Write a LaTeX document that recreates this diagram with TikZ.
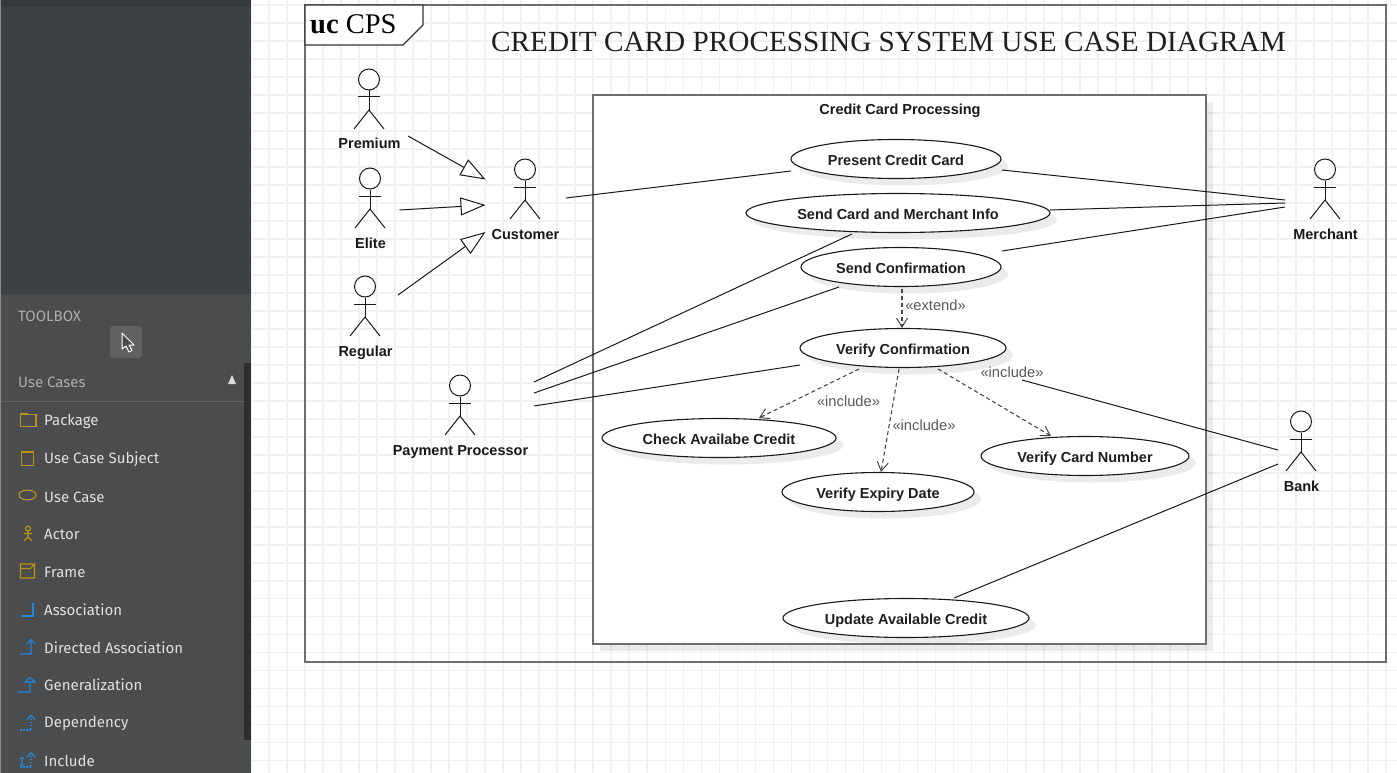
\documentclass[tikz,border=0pt]{standalone}
\usepackage{fontspec}
\setmainfont{Liberation Sans}
\newfontfamily\uifont{Fira Sans}
\newfontfamily\serifont{Liberation Serif}
\usetikzlibrary{arrows.meta,shapes.geometric,shadows}
\definecolor{panel}{HTML}{4B4C4E}
\definecolor{paneltop}{HTML}{3C4143}
\definecolor{band}{HTML}{353A3C}
\definecolor{gridc}{HTML}{F1F1F1}
\definecolor{frameg}{HTML}{6E6E6E}
\definecolor{gold}{HTML}{B8960C}
\definecolor{azure}{HTML}{2288DD}
\tikzset{
  usecase/.style={ellipse,draw=black!90,fill=white,line width=1.1pt,inner sep=0pt,
    font=\fontsize{14.5}{16}\selectfont\bfseries,text=black!88,text height=12pt,text depth=0pt,
    drop shadow={shadow xshift=7pt,shadow yshift=-7pt,fill=black,opacity=.08}},
  actorlabel/.style={font=\fontsize{14.5}{16}\selectfont\bfseries,text=black!90,inner sep=0pt,text height=12pt,text depth=0pt},
  assoc/.style={line width=1pt,black!90},
  gen/.style={line width=1pt,black!90,-{Triangle[open,length=25pt,width=18pt,fill=white]}},
  dep/.style={line width=1.1pt,black!72,dashed,dash pattern=on 4pt off 3pt,-{Straight Barb[length=9pt,width=11pt,line width=1pt]}},
  stereo/.style={font=\fontsize{14.7}{16}\selectfont,text=black!65,inner sep=0pt},
  toolitem/.style={font=\uifont\fontsize{15}{18}\selectfont,text=white!88!black,anchor=west,inner sep=0pt},
  toolhead/.style={font=\uifont\fontsize{15}{18}\selectfont,text=white!68!black,anchor=west,inner sep=0pt},
  goldicon/.style={draw=gold,line width=1.1pt},
  blueicon/.style={draw=azure,line width=1.1pt},
}
\newcommand{\actorfig}[5]{% name, x, y of head centre, label, label y
  \node[circle,draw=black!90,fill=white,line width=1pt,minimum size=21pt,inner sep=0pt] (#1) at (#2,#3.5) {};
  \draw[line width=1pt,black!90] (#1.south) -- ++(0,19.5) coordinate (#1hip);
  \draw[line width=1pt,black!90] ([shift={(-11,6.5)}]#1.south) -- ++(22,0);
  \draw[line width=1pt,black!90] ([shift={(-15,38.5)}]#1.south) -- (#1hip) -- ([shift={(15,38.5)}]#1.south);
  \node[actorlabel] (#1label) at (#2.5,#5) {#4};
}
\begin{document}
\begin{tikzpicture}[x=1pt,y=-1pt]
\useasboundingbox (0,0) rectangle (1397,773);
\clip (0,0) rectangle (1397,773);
\fill[white] (0,0) rectangle (1397,773);
% canvas grid
\foreach \gx in {0,...,63}{\draw[gridc,line width=1.7pt] ({251+18.015*\gx},0) -- ({251+18.015*\gx},773);}
\foreach \gy in {0,...,42}{\draw[gridc,line width=1.7pt] (250,{5.3+17.98*\gy}) -- (1397,{5.3+17.98*\gy});}
% side panel
\fill[paneltop] (0,0) rectangle (251,294);
\fill[band] (0,0) rectangle (251,7);
\fill[panel] (0,294) rectangle (251,773);
\fill[black!45] (0,0) rectangle (1,773);
\fill[black!82] (244,363) rectangle (251,740);
\draw[white!12!panel,line width=.8pt] (1,401.5) -- (244,401.5);
\node[toolhead] (tbox) at (18,316.5) {TOOLBOX};
\node[fill=white!12!panel,rounded corners=3pt,minimum size=32pt,inner sep=0pt] (cursorbtn) at (126,342) {};
\draw[white,fill=panel,line width=1pt,line join=round] (122,333) -- (122,349) -- (126,346) -- (129,352) -- (132,350.5) -- (129,345) -- (134,345) -- cycle;
\node[toolhead] (ucases) at (18,382.5) {Use Cases};
\fill[white!85!black] (228,384) -- (232,375) -- (236,384) -- cycle;
\node[toolitem] (i1) at (44,421) {Package};
\node[toolitem] (i2) at (44,459) {Use Case Subject};
\node[toolitem] (i3) at (44,497) {Use Case};
\node[toolitem] (i4) at (44,534) {Actor};
\node[toolitem] (i5) at (44,572) {Frame};
\node[toolitem] (i6) at (44,610) {Association};
\node[toolitem] (i7) at (44,648) {Directed Association};
\node[toolitem] (i8) at (44,685) {Generalization};
\node[toolitem] (i9) at (44,723) {Dependency};
\node[toolitem] (i10) at (44,761) {Include};
\draw[goldicon] (20.5,426.5) rectangle (36,414.5) (20.5,414.5) -- (20.5,413.5) -- (27,413.5) -- (27,414.5);
\draw[goldicon] (21.5,452) -- (33.5,452) -- (33.5,465.5) -- (21.5,465.5) -- cycle;
\draw[goldicon] (27.5,495) ellipse [x radius=8.5,y radius=5];
\draw[goldicon] (28,528.5) circle (2.5) (28,531) -- (28,537) (24,533.5) -- (32,533.5) (24,541) -- (28,537) -- (32,541);
\draw[goldicon] (20.5,564) rectangle (34.5,578) (20.5,568.5) -- (30.5,568.5) -- (34.5,564);
\draw[blueicon] (21,616) -- (33,616) -- (33,603);
\draw[blueicon] (20,654) -- (31,654) -- (31,640) (27,644) -- (31,639.5) -- (35,644);
\draw[blueicon] (18,692) -- (30,692) -- (30,682) (25,682) -- (30,677.5) -- (35,682) -- cycle;
\draw[blueicon,dash pattern=on 1.5pt off 1.5pt] (20,730) -- (31,730) -- (31,716);
\draw[blueicon] (27,719.5) -- (31,715.5) -- (35,719.5);
\draw[blueicon,dash pattern=on 1.5pt off 1.5pt] (20,767) -- (31,767) -- (31,754);
\draw[blueicon] (27,757) -- (31,753) -- (35,757) (20,758) -- (24,758) (22,758) -- (22,765) (20,765) -- (24,765);
% frame
\draw[frameg,line width=1.6pt] (305,5) rectangle (1386,662);
\draw[black!80,fill=white,line width=1.1pt] (305,5) -- (423,5) -- (423,25) -- (403,45) -- (305,45) -- cycle;
\node[font=\serifont\fontsize{28.5}{30}\selectfont,anchor=west,inner sep=0pt] (ttl) at (310,24) {\textbf{uc} CPS};
\node[font=\serifont\fontsize{29.25}{32}\selectfont,text=black!88,inner sep=0pt] (title) at (888.5,42) {CREDIT CARD PROCESSING SYSTEM USE CASE DIAGRAM};
% subject
\node[draw=frameg,fill=white,line width=1.6pt,minimum width=613pt,minimum height=549pt,inner sep=0pt,
  drop shadow={shadow xshift=7pt,shadow yshift=-7pt,fill=black,opacity=.08}] (subject) at (899.5,369.5) {};
\node[actorlabel] (subjlabel) at (900,108.5) {Credit Card Processing};
% use cases
\node[usecase,minimum width=210pt,minimum height=39pt] (present) at (896,159) {Present Credit Card};
\node[usecase,minimum width=304pt,minimum height=39pt] (sendcard) at (898,213) {Send Card and Merchant Info};
\node[usecase,minimum width=200pt,minimum height=39pt] (sendconf) at (901,267) {Send Confirmation};
\node[usecase,minimum width=206pt,minimum height=39pt] (verify) at (903,348) {Verify Confirmation};
\node[usecase,minimum width=234pt,minimum height=39pt] (check) at (719,438) {Check Availabe Credit};
\node[usecase,minimum width=192pt,minimum height=39pt] (expiry) at (878,492) {Verify Expiry Date};
\node[usecase,minimum width=208pt,minimum height=39pt] (cardno) at (1085,456) {Verify Card Number};
\node[usecase,minimum width=246pt,minimum height=39pt] (update) at (906,618) {Update Available Credit};
% actors
\actorfig{premium}{369}{79}{Premium}{143}
\actorfig{elite}{370}{178}{Elite}{242}
\actorfig{regular}{365}{286}{Regular}{350}
\actorfig{customer}{525}{169}{Customer}{233}
\actorfig{merchant}{1325}{169}{Merchant}{233}
\actorfig{payment}{460}{385}{Payment Processor}{449}
\actorfig{bank}{1301}{421}{Bank}{485}
% connector ends
\coordinate (pS) at (408,136); \coordinate (cP) at (485.5,179.5);
\coordinate (eS) at (399.5,210); \coordinate (cE) at (485.5,205);
\coordinate (rS) at (398,295); \coordinate (cR) at (485.5,232);
\coordinate (cA) at (566,198); \coordinate (pA) at (791,171);
\coordinate (pM) at (1002,170); \coordinate (mA) at (1285,200);
\coordinate (sM) at (1050,210); \coordinate (mB) at (1285,203);
\coordinate (fM) at (1002,251); \coordinate (mC) at (1285,207);
\coordinate (yA) at (534,382); \coordinate (sA) at (852,234);
\coordinate (yB) at (534,393); \coordinate (fA) at (839,287);
\coordinate (yC) at (534,406); \coordinate (vA) at (800,365);
\coordinate (vB) at (1022,380); \coordinate (bA) at (1278,450);
\coordinate (uA) at (954,598); \coordinate (bB) at (1278,464);
\coordinate (fD) at (902,289); \coordinate (vT) at (902,328);
\coordinate (vC) at (859,369); \coordinate (kA) at (759,418);
\coordinate (vE) at (899,369); \coordinate (xA) at (881,472);
\coordinate (vN) at (938,369); \coordinate (nA) at (1051,436);
% connectors
\draw[gen] (pS) -- (cP);
\draw[gen] (eS) -- (cE);
\draw[gen] (rS) -- (cR);
\draw[assoc] (cA) -- (pA);
\draw[assoc] (pM) -- (mA);
\draw[assoc] (sM) -- (mB);
\draw[assoc] (fM) -- (mC);
\draw[assoc] (yA) -- (sA);
\draw[assoc] (yB) -- (fA);
\draw[assoc] (yC) -- (vA);
\draw[assoc] (vB) -- (bA);
\draw[assoc] (uA) -- (bB);
\draw[dep] (fD) -- (vT);
\draw[dep] (vC) -- (kA);
\draw[dep] (vE) -- (xA);
\draw[dep] (vN) -- (nA);
% stereotypes
\node[stereo] (ext) at (935.5,305) {«extend»};
\node[stereo] (inc1) at (848.5,401) {«include»};
\node[stereo] (inc2) at (924,425) {«include»};
\node[stereo] (inc3) at (1012,372) {«include»};
\end{tikzpicture}
\end{document}
